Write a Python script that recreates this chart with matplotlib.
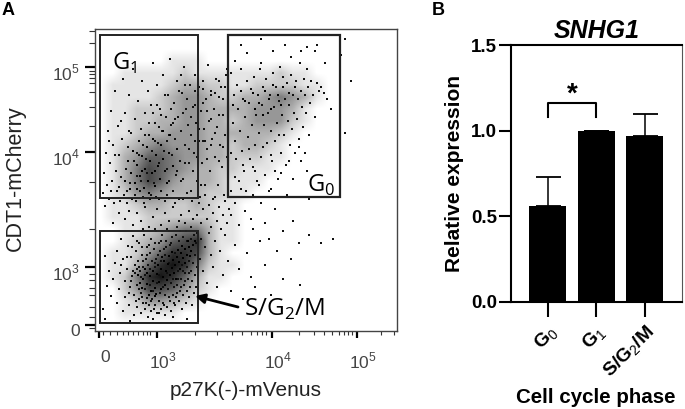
import matplotlib
matplotlib.use('Agg')
import matplotlib.pyplot as plt
from matplotlib.patches import Rectangle
from matplotlib.transforms import ScaledTranslation

plt.rcParams['font.family'] = ['Liberation Sans', 'DejaVu Sans']
plt.rcParams['mathtext.fontset'] = 'custom'
plt.rcParams['mathtext.rm'] = 'Liberation Sans'
plt.rcParams['mathtext.bf'] = 'Liberation Sans:bold'

# panel A, events in display channels of the flow plot
s_core = [(48,52),(52,47),(55,55),(58,50),(60,43),(62,57),(64,49),(66,62),(68,54),(70,46),(71,60),(73,67),(75,56),
          (77,63),(78,71),(80,66),(82,74),(84,69),(86,78),(88,73),(90,82),(92,76),(94,84),(96,80),(58,60),(63,66),
          (69,70),(74,75),(52,58),(56,40),(61,37),(66,42),(72,51),(79,58),(85,62),(90,68),(45,48),(43,56),(50,62),
          (98,86),(95,75),(83,81),(77,79),(67,74),(60,35),(54,36),(47,43),(81,52),(87,85),(100,90),(93,90)]
s_cells = [(8,22),(12,45),(14,60),(10,75),(16,35),(18,52),(20,68),(22,28),(22,80),(24,42),(25,58),(26,92),(28,20),
           (28,72),(30,34),(30,50),(32,62),(33,85),(34,26),(35,44),(36,74),(37,55),(38,95),(39,16),(39,36),(40,66),
           (41,80),(42,24),(42,46),(43,70),(44,32),(44,88),(45,60),(46,18),(46,38),(47,76),(48,28),(48,64),(49,96),
           (50,22),(50,42),(51,72),(52,33),(52,84),(53,14),(53,66),(54,26),(55,46),(55,78),(56,20),(56,92),(57,32),
           (57,70),(58,12),(58,40),(59,82),(60,26),(60,64),(61,100),(62,18),(62,48),(63,76),(64,30),(64,88),(65,38),
           (66,22),(66,70),(67,96),(68,28),(68,44),(69,82),(70,16),(70,36),(71,90),(72,24),(72,58),(73,42),(74,100),
           (75,30),(75,86),(76,20),(76,48),(77,94),(78,36),(79,44),(80,26),(80,78),(81,34),(81,96),(82,46),(83,60),
           (84,30),(84,90),(85,40),(85,100),(86,52),(87,22),(87,66),(88,36),(88,94),(89,46),(90,58),(91,28),(91,100),
           (92,40),(92,64),(93,52),(94,34),(94,70),(95,44),(96,60),(96,92),(97,26),(97,50),(98,68),(99,38),(99,96),
           (100,56),(100,76),(101,44),(101,88),(102,64),(102,98),(40,58),(44,64),(48,70),(52,76),(56,30),(61,72),
           (65,80),(70,76),(74,68),(78,52),(82,38),(86,44),(90,50),(94,58),(64,56),(60,68),(55,62),(50,56),(46,54),
           (42,62),(38,60),(36,50),(34,38),(41,30),(44,42),(47,34),(51,28),(59,22),(64,18),(69,26),(74,34),(79,28),
           (83,52),(88,60),(92,90),(76,88),(71,84),(66,90),(60,88),(54,86),(47,84),(42,90),(37,84),(32,74),(26,66),
           (105,72),(106,92),(108,60),(110,84),(112,48),(114,98),(116,76),(118,64),(120,90),(122,44),(125,80),(128,56),
           (130,96),(133,70),(136,40),(140,86),(144,62),(148,32),(152,78),(156,54),(160,44),(165,90),(170,66),(176,36),
           (182,80),(188,52),(196,72),(205,46),(214,96),(226,88),(238,92),(10,12),(35,10),(78,14),(92,12)]
g1_core = [(30,150),(33,170),(36,158),(38,180),(40,148),(42,166),(44,190),(45,155),(47,175),(49,143),(50,162),(52,184),
           (53,150),(55,170),(57,158),(58,192),(60,145),(61,176),(63,165),(65,152),(66,186),(68,172),(70,160),(72,148),
           (74,178),(75,196),(47,160),(54,138),(42,142),(60,160),(35,142),(78,165),(82,182),(68,200)]
g1_cells = [(8,138),(9,158),(10,125),(11,178),(12,146),(13,200),(14,132),(15,168),(16,220),(17,150),(18,186),(19,128),
            (20,240),(21,160),(22,140),(23,205),(24,176),(25,130),(26,154),(27,192),(28,252),(29,136),(30,218),(31,162),
            (32,128),(33,184),(34,236),(35,148),(36,198),(37,132),(38,262),(39,170),(40,212),(41,130),(42,155),(43,230),
            (44,176),(45,140),(46,202),(47,250),(48,186),(49,128),(50,218),(51,172),(52,158),(53,240),(54,196),(55,132),
            (56,226),(57,180),(58,268),(59,148),(60,208),(61,134),(62,246),(63,188),(64,168),(65,222),(66,140),(67,200),
            (68,256),(69,180),(70,130),(71,214),(72,162),(73,236),(74,150),(75,272),(76,206),(77,176),(78,140),(79,228),
            (80,192),(81,156),(82,250),(83,214),(84,132),(85,170),(86,200),(87,238),(88,152),(89,264),(90,186),(91,222),
            (92,138),(93,206),(94,168),(95,246),(96,196),(97,130),(98,224),(99,178),(100,256),(101,208),(102,150),(103,236),
            (104,190),(105,134),(106,220),(107,168),(108,250),(109,202),(110,146),(111,232),(112,182),(113,266),(114,210),
            (115,160),(116,240),(117,192),(118,132),(119,222),(120,174),(121,252),(122,204),(123,146),(124,234),(125,186),
            (126,244),(127,164),(128,216),(129,136),(130,196),(131,256),(132,174),(133,228),(60,190),(64,204),(72,190),
            (76,222),(80,212),(84,240),(88,218),(92,232),(96,214),(100,226),(104,244),(108,228),(112,220),(116,212),
            (120,238),(124,216),(128,232),(104,202),(108,190),(112,172),(116,186),(120,198),(124,170),(128,184),(82,160),
            (86,150),(90,168),(94,182),(98,160),(102,174),(106,146),(110,190),(42,178),(46,150),(50,196),(54,208),(58,218),
            (62,226),(66,216),(70,236),(74,196),(78,208),(34,200),(26,210),(20,176),(14,190),(90,246),(86,256),(100,240),
            (108,242),(116,236),(124,250),(130,244),(100,190),(96,140),(88,132),(80,128),(72,136),(64,132),(56,136),
            (48,134),(40,136),(32,140),(24,144),(16,140)]
g0_core = [(150,230),(158,238),(164,228),(170,240),(174,232),(178,246),(183,236),(188,244),(194,238),(160,222),
           (146,240),(138,226),(176,222),(186,226),(168,216),(200,244)]
g0_cells = [(136,258),(138,208),(139,236),(140,190),(141,172),(142,246),(143,222),(144,150),(145,200),(146,262),(147,180),
            (148,232),(149,160),(150,214),(151,140),(152,250),(153,194),(154,228),(155,172),(156,242),(157,206),(158,136),
            (159,254),(160,186),(161,216),(162,150),(163,236),(164,198),(165,262),(166,174),(167,226),(168,244),(169,206),
            (170,156),(171,252),(172,188),(173,218),(174,140),(175,236),(176,200),(177,170),(178,258),(179,224),(180,190),
            (181,244),(182,208),(183,152),(184,230),(185,264),(186,178),(187,216),(188,254),(189,196),(190,232),(191,166),
            (192,248),(193,210),(194,226),(195,186),(196,256),(197,202),(198,236),(199,218),(200,178),(201,250),(202,212),
            (203,232),(204,192),(205,268),(206,240),(207,224),(208,204),(209,252),(210,236),(211,218),(212,262),(213,244),
            (214,196),(215,228),(216,250),(218,236),(220,214),(222,248),(224,240),(226,244),(229,238),(232,232),(236,222),
            (152,278),(146,286),(166,292),(190,286),(196,296),(178,280),(196,274),(166,268),(140,270),(132,262),(206,280),
            (212,284),(220,280),(230,268),(250,292),(256,250),(250,198),(246,276),(222,286),(140,154),(146,142),(150,120),
            (156,112),(160,160),(166,128),(170,108),(176,142),(180,122),(186,158),(192,136),(198,152),(206,170),(212,160),
            (214,132),(158,102),(174,92),(188,100),(198,110),(204,88),(136,178),(136,140),(136,116),(140,128),(144,106),
            (148,166),(154,182),(158,164),(164,146),(168,184),(176,176),(180,160),(184,196),(194,170),(204,184),(210,178)]
mid_cells = [(102,116),(104,128),(106,108),(108,122),(110,136),(112,112),(114,126),(116,104),(118,118),(120,134),(122,110),
             (124,124),(126,102),(128,116),(130,130),(132,108),(134,122),(30,112),(34,120),(38,106),(42,118),(46,110),
             (50,124),(54,104),(58,114),(62,122),(66,106),(70,118),(74,110),(78,124),(82,104),(86,116),(90,108),(94,120),
             (98,112),(24,118),(18,108),(48,102),(60,102),(72,102),(84,110),(96,104)]

# darkness of the dot cloud, 0-9, per 12 channel cell, top row first
cloud_density = [
    [0] * 25,
    [0] * 25,
    [0, 0, 0, 0, 0, 0, 1, 1, 1, 0, 0, 0, 0, 0, 0, 0, 0, 0, 0, 0, 0, 0, 0, 0, 0],
    [0, 0, 1, 1, 1, 1, 1, 2, 1, 1, 1, 1, 1, 1, 1, 2, 1, 1, 0, 0, 0, 0, 0, 0, 0],
    [0, 1, 1, 1, 1, 1, 2, 3, 3, 2, 2, 1, 1, 2, 2, 2, 2, 1, 1, 0, 0, 0, 0, 0, 0],
    [0, 1, 1, 1, 1, 2, 3, 4, 4, 3, 2, 2, 3, 3, 4, 5, 4, 3, 1, 0, 0, 0, 0, 0, 0],
    [0, 1, 1, 2, 2, 2, 3, 4, 4, 3, 3, 3, 3, 4, 4, 4, 3, 1, 0, 0, 0, 0, 0, 0, 0],
    [0, 1, 1, 2, 2, 3, 3, 4, 4, 3, 3, 2, 3, 4, 4, 4, 2, 1, 0, 0, 0, 0, 0, 0, 0],
    [0, 1, 1, 2, 3, 3, 4, 4, 4, 3, 3, 3, 3, 3, 3, 2, 1, 0, 0, 0, 0, 0, 0, 0, 0],
    [0, 1, 2, 3, 4, 5, 4, 4, 4, 3, 3, 2, 3, 3, 2, 1, 0, 0, 0, 0, 0, 0, 0, 0, 0],
    [0, 1, 3, 4, 6, 6, 5, 4, 4, 3, 3, 2, 2, 2, 1, 1, 0, 0, 0, 0, 0, 0, 0, 0, 0],
    [0, 1, 3, 5, 7, 6, 5, 4, 3, 3, 2, 2, 1, 1, 1, 0, 0, 0, 0, 0, 0, 0, 0, 0, 0],
    [0, 1, 3, 5, 7, 6, 4, 3, 3, 3, 2, 1, 1, 1, 0, 0, 0, 0, 0, 0, 0, 0, 0, 0, 0],
    [0, 1, 2, 4, 5, 4, 3, 3, 3, 2, 2, 1, 1, 0, 0, 0, 0, 0, 0, 0, 0, 0, 0, 0, 0],
    [0, 1, 1, 2, 3, 3, 2, 2, 3, 2, 1, 1, 0, 0, 0, 0, 0, 0, 0, 0, 0, 0, 0, 0, 0],
    [0, 1, 1, 1, 2, 2, 2, 2, 2, 2, 1, 1, 0, 0, 0, 0, 0, 0, 0, 0, 0, 0, 0, 0, 0],
    [0, 0, 1, 1, 2, 3, 4, 5, 5, 3, 1, 1, 0, 0, 0, 0, 0, 0, 0, 0, 0, 0, 0, 0, 0],
    [0, 0, 1, 2, 3, 4, 6, 7, 8, 3, 1, 1, 0, 0, 0, 0, 0, 0, 0, 0, 0, 0, 0, 0, 0],
    [0, 1, 1, 2, 4, 6, 8, 8, 7, 3, 1, 0, 0, 0, 0, 0, 0, 0, 0, 0, 0, 0, 0, 0, 0],
    [0, 1, 1, 3, 6, 8, 9, 8, 5, 2, 1, 1, 0, 0, 0, 0, 0, 0, 0, 0, 0, 0, 0, 0, 0],
    [0, 1, 2, 5, 8, 9, 8, 6, 3, 1, 1, 0, 0, 0, 0, 0, 0, 0, 0, 0, 0, 0, 0, 0, 0],
    [0, 0, 2, 4, 7, 7, 6, 4, 2, 1, 0, 0, 0, 0, 0, 0, 0, 0, 0, 0, 0, 0, 0, 0, 0],
    [0, 0, 1, 2, 4, 4, 3, 2, 1, 0, 0, 0, 0, 0, 0, 0, 0, 0, 0, 0, 0, 0, 0, 0, 0],
    [0, 0, 1, 1, 1, 1, 1, 0, 0, 0, 0, 0, 0, 0, 0, 0, 0, 0, 0, 0, 0, 0, 0, 0, 0],
    [0] * 25,
]

# panel A axis, channels of the biexponential ticks
x_major = [4, 62, 177, 262]
x_minor = [8, 15, 22, 28, 33, 38, 43, 48, 52, 55, 100, 122, 137, 147, 156, 162, 167, 171, 204, 219, 229, 237, 244, 249,
           253, 257, 286, 299]
x_labels = ['0', r'10$^{\mathregular{3}}$', r'10$^{\mathregular{4}}$', r'10$^{\mathregular{5}}$']
y_major = [6, 64, 179, 264]
y_minor = [3, 14, 24, 36, 43, 51, 57, 102, 149, 205, 224, 239, 248, 253, 257, 260, 288, 300]
y_labels = ['0', r'10$^{\mathregular{3}}$', r'10$^{\mathregular{4}}$', r'10$^{\mathregular{5}}$']

# panel B
phases = [r'G$_{\mathrm{0}}$', r'G$_{\mathrm{1}}$', r'S/G$_{\mathrm{2}}$/M']
expression = [0.56, 1.0, 0.97]
err_up = [0.17, 0.0, 0.13]
expr_ticks = [0.0, 0.5, 1.0, 1.5]


def panel_a(ax):
    # soft tone under the dots for the parts too dense to list event by event
    ax.imshow(cloud_density, cmap='gray_r', vmin=0, vmax=9.8, extent=(0, 300, 0, 300), interpolation='bilinear', aspect='auto', zorder=0)
    ax.set_xlim(0, 302)
    ax.set_ylim(0, 302.5)
    for spine in ax.spines.values():
        spine.set_color('#444444')
        spine.set_linewidth(1.0)
    for cells in [s_cells, g1_cells, g0_cells, mid_cells]:
        ax.scatter([c[0] for c in cells], [c[1] for c in cells], s=1.8, c='#111111', marker='s', lw=0, zorder=1)
    for core in [s_core, g1_core, g0_core]:
        ax.scatter([c[0] for c in core], [c[1] for c in core], s=4, c='black', marker='s', lw=0, zorder=1)

    ax.set_xticks(x_major)
    ax.set_xticklabels(x_labels, color='#444444', fontsize=12.5)
    ax.set_xticks(x_minor, minor=True)
    ax.set_yticks(y_major)
    ax.set_yticklabels(y_labels, color='#444444', fontsize=12.5)
    ax.set_yticks(y_minor, minor=True)
    ax.tick_params(axis='x', which='major', length=5, width=1.6, pad=9)
    ax.tick_params(axis='x', which='minor', length=3, width=0.8, color='#333333')
    ax.tick_params(axis='y', which='major', length=7, width=1.6, pad=4)
    ax.tick_params(axis='y', which='minor', length=4, width=0.8, color='#333333')
    fig = ax.figure
    for lab in ax.get_xticklabels():
        lab.set_transform(lab.get_transform() + ScaledTranslation(6 / 100, 0, fig.dpi_scale_trans))
    for lab in ax.get_yticklabels():
        lab.set_transform(lab.get_transform() + ScaledTranslation(0, -5 / 100, fig.dpi_scale_trans))

    # gates
    ax.add_patch(Rectangle((5, 133), 98, 163, fill=False, ec='#222222', lw=1.4, zorder=2))
    ax.add_patch(Rectangle((133, 134), 112, 162, fill=False, ec='#222222', lw=1.6, zorder=2))
    ax.add_patch(Rectangle((5, 8), 98, 92, fill=False, ec='#222222', lw=1.4, zorder=2))
    ax.set_xlabel('p27K(-)-mVenus', fontsize=15, color='#222222', labelpad=7)
    ax.set_ylabel('CDT1-mCherry', fontsize=15.5, color='#222222')
    ax.yaxis.set_label_coords(-0.228, 0.506)

    ax.text(17, 261, r'G$_{\mathregular{1}}$', family='Open Sans', fontsize=17, va='baseline')
    ax.text(212, 139, r'G$_{\mathregular{0}}$', family='Open Sans', fontsize=17, va='baseline')
    ax.text(149, 15, r'S/G$_{\mathregular{2}}$/M', family='Open Sans', fontsize=17.5, va='baseline')
    ax.annotate('', xy=(100, 35), xytext=(143, 24),
                arrowprops=dict(arrowstyle='-|>', color='black', lw=2, mutation_scale=14, shrinkA=0, shrinkB=0))


def panel_b(ax):
    pos = range(len(phases))
    ax.bar(pos, expression, width=0.76, color='black')
    ax.errorbar(pos, expression, yerr=[[0] * 3, err_up], fmt='none', ecolor='black', elinewidth=1.1, capsize=9, capthick=1.3)
    ax.set_xlim(-0.763, 2.763)
    ax.set_ylim(0, 1.5)
    for name in ['left', 'bottom', 'top']:
        ax.spines[name].set_linewidth(1.5)
    ax.spines['right'].set_linewidth(0.8)
    ax.spines['right'].set_color('#555555')
    ax.set_yticks(expr_ticks)
    ax.set_yticklabels(['%.1f' % t for t in expr_ticks], fontsize=13.5, fontweight='bold')
    ax.set_xticks(list(pos))
    ax.set_xticklabels(phases, rotation=45, ha='right', rotation_mode='anchor', fontsize=14, fontweight='bold')
    ax.tick_params(axis='y', length=9, width=1.5, pad=1)
    ax.tick_params(axis='x', length=11, width=1.5, pad=4)
    ax.set_xlabel('Cell cycle phase', fontsize=14.8, fontweight='bold', va='top')
    ax.xaxis.set_label_coords(0.5, -0.336)
    ax.set_ylabel('Relative expression', fontsize=15, fontweight='bold', labelpad=5)
    ax.set_title('SNHG1', fontsize=18, fontweight='bold', style='italic', pad=5)
    # significance bracket
    ax.plot([0, 0, 1, 1], [1.08, 1.163, 1.163, 1.08], color='black', lw=1.5)
    ax.text(0.5, 1.21, '*', fontsize=20, fontweight='bold', ha='center', va='center')


fig = plt.figure(figsize=(6.85, 4.09), dpi=100)
ax_a = fig.add_axes([95 / 685, (409 - 331) / 409, 302 / 685, 302.5 / 409])
ax_b = fig.add_axes([510.7 / 685, (409 - 301.7) / 409, 171 / 685, 256.5 / 409])
panel_a(ax_a)
panel_b(ax_b)
fig.text(2 / 685, 1 - 15 / 409, 'A', fontsize=13, fontweight='bold')
fig.text(432 / 685, 1 - 15 / 409, 'B', fontsize=13, fontweight='bold')
fig.savefig('out.png', dpi=100)
